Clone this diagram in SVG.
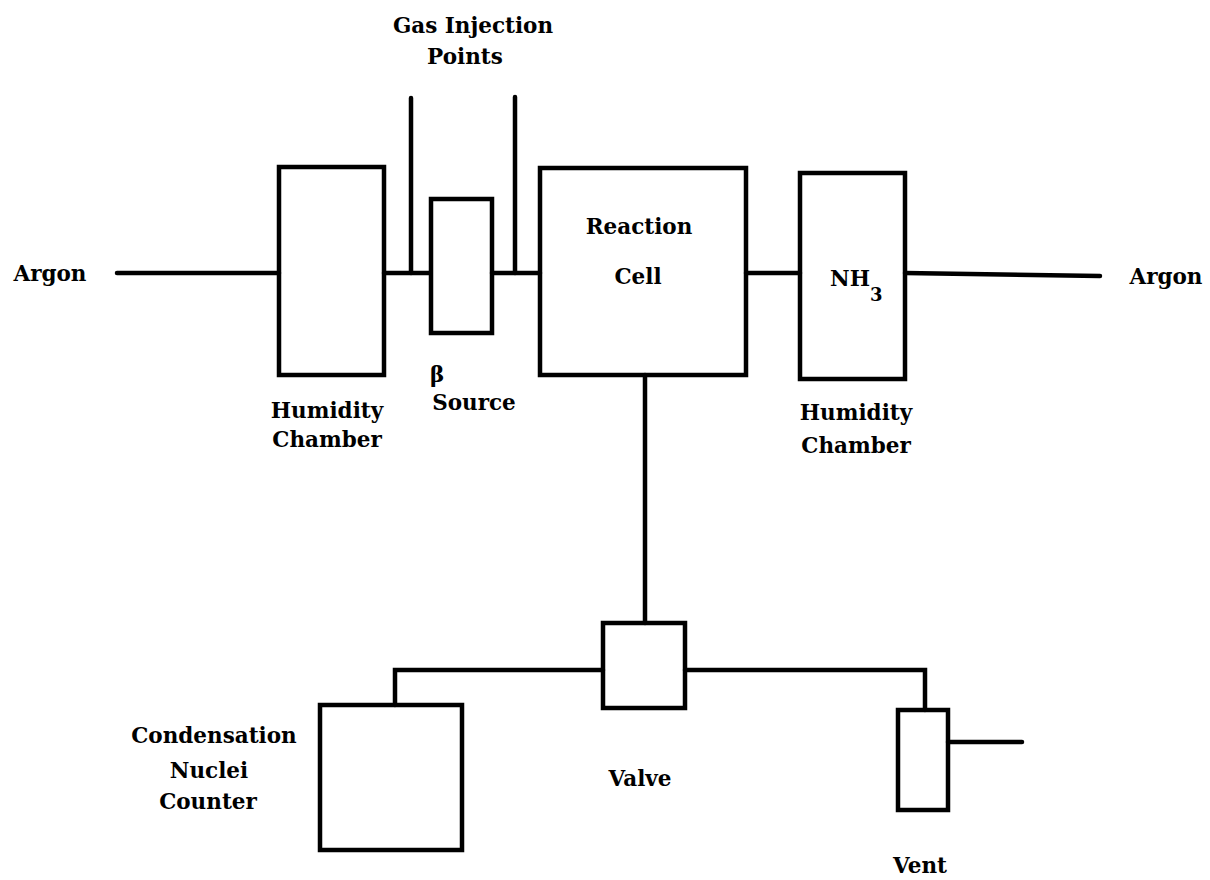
<svg xmlns="http://www.w3.org/2000/svg" width="1210" height="880" viewBox="0 0 1210 880">
<style>
.box{fill:none;stroke:#000;stroke-width:4.5}
.ln{fill:none;stroke:#000;stroke-width:4.5;stroke-linecap:round;stroke-linejoin:miter}
text{font-family:"DejaVu Serif","Liberation Serif",serif;font-weight:bold;font-size:21.5px;fill:#000;text-anchor:middle}
.st{text-anchor:start}
.sub{font-size:18px;text-anchor:start}
</style>
<rect width="1210" height="880" fill="#fff"/>
<g id="connectors">
<path class="ln" d="M117 273 H279"/>
<path class="ln" d="M384 273 H430"/>
<path class="ln" d="M411 273 V98"/>
<path class="ln" d="M492 273 H540"/>
<path class="ln" d="M515 273 V97"/>
<path class="ln" d="M746 273 H800"/>
<path class="ln" d="M905 273 L1100 276"/>
<path class="ln" d="M645 375 V623"/>
<path class="ln" d="M603 670 H395 V705"/>
<path class="ln" d="M685 670 H925 V710"/>
<path class="ln" d="M948 742 H1022"/>
</g>
<g id="argon-in"><text x="50" y="281">Argon</text></g>
<g id="gas-injection"><text x="473" y="33">Gas Injection</text><text x="465" y="64">Points</text></g>
<g id="humidity1"><rect class="box" x="279" y="167" width="105" height="208"/><text x="327" y="418">Humidity</text><text x="327" y="447">Chamber</text></g>
<g id="beta-source"><rect class="box" x="431" y="199" width="61" height="134"/><text class="st" x="430" y="382">β</text><text x="474" y="410">Source</text></g>
<g id="reaction-cell"><rect class="box" x="540" y="168" width="206" height="207"/><text x="639" y="234">Reaction</text><text x="638" y="284">Cell</text></g>
<g id="humidity2"><rect class="box" x="800" y="173" width="105" height="206"/><text class="st" x="830" y="286">NH</text><text class="sub" x="870" y="301">3</text><text x="856" y="420">Humidity</text><text x="856" y="453">Chamber</text></g>
<g id="argon-out"><text x="1166" y="284">Argon</text></g>
<g id="valve"><rect class="box" x="603" y="623" width="82" height="85"/><text x="640" y="786">Valve</text></g>
<g id="cnc"><rect class="box" x="320" y="705" width="142" height="145"/><text x="214" y="743">Condensation</text><text x="209" y="778">Nuclei</text><text x="208" y="809">Counter</text></g>
<g id="vent"><rect class="box" x="898" y="710" width="50" height="100"/><text x="920" y="873">Vent</text></g>
</svg>
